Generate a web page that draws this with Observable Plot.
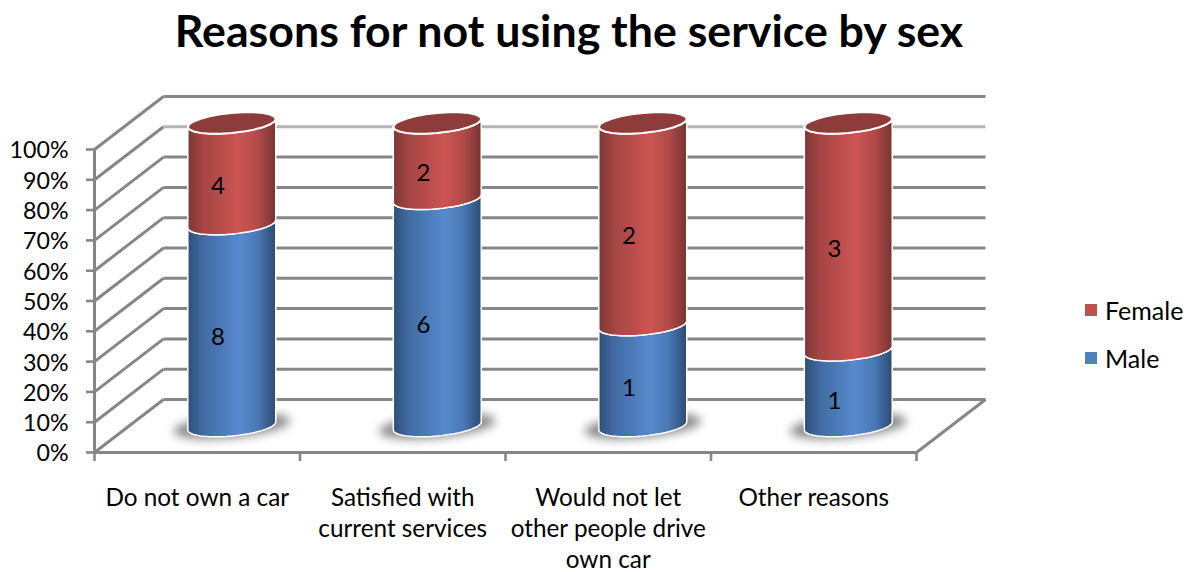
<!DOCTYPE html>
<html>
<head>
<meta charset="utf-8">
<script src="https://cdn.jsdelivr.net/npm/d3@7"></script>
<script src="https://cdn.jsdelivr.net/npm/@observablehq/plot@0.6"></script>
<style>
  html, body { margin: 0; background: #fff; }
  #page { position: relative; width: 1199px; height: 572px; overflow: hidden; font-family: Lato, sans-serif; color: #000; }
  h1 { margin: 0; height: 62px; width: 1138px; text-align: center; font-size: 44.7px; font-weight: 700; line-height: 60px; }
  #legend { position: absolute; left: 1085px; top: 286px; font-size: 25px; }
  #legend div { display: flex; align-items: center; height: 48px; }
  #legend i { width: 12px; height: 12px; margin-right: 8px; display: block; }
  svg { display: block; }
</style>
</head>
<body>
<div id="page">
  <h1>Reasons for not using the service by sex</h1>
  <div id="chart"></div>
  <div id="legend">
    <div><i style="background:#c0504d"></i>Female</div>
    <div><i style="background:#4f81bd"></i>Male</div>
  </div>
</div>
<script>
// Respondent counts per reason
const categories = ["Do not own a car", "Satisfied with\ncurrent services", "Would not let\nother people drive\nown car", "Other reasons"];
const male = [8, 6, 1, 1];
const female = [4, 2, 2, 3];
const percentTicks = [0, 0.1, 0.2, 0.3, 0.4, 0.5, 0.6, 0.7, 0.8, 0.9, 1];
const categoryEdges = [0, 1, 2, 3, 4];

// Oblique projection of the chart box, in units of the x and y scales
const depthX = 0.336;
const depthY = 0.175;
const radiusX = 0.214;
const radiusY = 0.033;
const tilt = 0.0132;

const cx = (i) => i + 0.5 + depthX / 2;
const cy = (v) => v + depthY / 2;

// Tilted cross-section of a cylinder, sampled between two angles
const arc = (i, v, from, to, rx = radiusX, ry = radiusY) =>
  d3.range(25).map((k) => {
    const t = from + ((to - from) * k) / 24;
    return { x: cx(i) + rx * Math.cos(t), y: cy(v) - ry * Math.sin(t) + tilt * Math.cos(t) * (rx / radiusX) };
  });

const bodies = [];
const tops = [];
const shadows = [];
const labels = [];
categories.forEach((_, i) => {
  const split = male[i] / (male[i] + female[i]);
  const segments = [
    { kind: "male", lo: 0, hi: split, value: male[i] },
    { kind: "female", lo: split, hi: 1, value: female[i] }
  ];
  for (const s of segments) {
    const id = `${s.kind}-${i}`;
    const path = [...arc(i, s.hi, Math.PI, 0), ...arc(i, s.lo, Math.PI, 0).reverse()];
    path.push(path[0]);
    path.forEach((p) => bodies.push({ ...p, id, kind: s.kind }));
    labels.push({ x: cx(i) - depthX * 0.2, y: cy((s.lo + s.hi) / 2) - depthY * 0.24, value: s.value });
  }
  arc(i, 1, 0, 2 * Math.PI).forEach((p) => tops.push({ ...p, id: i }));
  arc(i, 0, 0, 2 * Math.PI, 0.285, 0.04).forEach((p) => shadows.push({ ...p, id: i }));
});

// Side wall diagonals and back wall rows, one pair per percent tick, plus the floor edge
const walls = percentTicks.flatMap((t) => [
  { x1: 0, y1: t, x2: depthX, y2: t + depthY },
  { x1: depthX, y1: t + depthY, x2: 4 + depthX, y2: t + depthY, soft: t === 0.9 }
]);
walls.push({ x1: 4, y1: 0, x2: 4 + depthX, y2: depthY });

// Horizontal shading that rounds the cylinder bodies
function gradients() {
  const svg = d3.create("svg:g");
  const defs = svg.append("defs");
  const ramp = (id, stops) => {
    const g = defs.append("linearGradient").attr("id", id);
    stops.forEach(([o, c]) => g.append("stop").attr("offset", o).attr("stop-color", c));
  };
  ramp("maleShade", [[0, "#2f4e78"], [0.18, "#416ca3"], [0.58, "#5789cd"], [0.8, "#4a78b4"], [1, "#2d4a72"]]);
  ramp("femaleShade", [[0, "#7c3836"], [0.18, "#a54543"], [0.58, "#cc5553"], [0.8, "#b04a48"], [1, "#773432"]]);
  return svg.node();
}

const gridColor = "#868686";
const chart = Plot.plot({
  width: 1199,
  height: 510,
  marginLeft: 94,
  marginRight: 283,
  marginTop: 87,
  marginBottom: 120,
  x: { domain: [0, 4] },
  y: { domain: [0, 1] },
  marks: [
    gradients,
    Plot.link(walls, { x1: "x1", y1: "y1", x2: "x2", y2: "y2", stroke: (d) => (d.soft ? "#b4b4b4" : gridColor), strokeWidth: 3 }),
    Plot.line(shadows, { x: "x", y: "y", z: "id", fill: "#8c8c8c", stroke: "none", imageFilter: "blur(5px)" }),
    Plot.line(bodies.filter((d) => d.kind === "male"), { x: "x", y: "y", z: "id", fill: "url(#maleShade)", stroke: "white", strokeWidth: 1.5 }),
    Plot.line(bodies.filter((d) => d.kind === "female"), { x: "x", y: "y", z: "id", fill: "url(#femaleShade)", stroke: "white", strokeWidth: 1.5 }),
    Plot.line(tops, { x: "x", y: "y", z: "id", fill: "#8e3c3a", stroke: "white", strokeWidth: 2 }),
    Plot.text(labels, { x: "x", y: "y", text: "value", fontSize: 24, fill: "black" }),
    Plot.ruleX([0], { y1: 0, y2: 1, stroke: gridColor, strokeWidth: 3 }),
    Plot.ruleY([0], { x1: 0, x2: 4, stroke: gridColor, strokeWidth: 3 }),
    Plot.axisY({ ticks: percentTicks, tickSize: 8, tickFormat: () => "", label: null, stroke: gridColor, strokeWidth: 2.6 }),
    Plot.text(percentTicks, {
      x: 0, y: (d) => d, text: (d) => `${Math.round(d * 100)}%`, textAnchor: "end", dx: -26, dy: 1.5, fontSize: 23.2, fill: "black"
    }),
    Plot.axisX({ ticks: categoryEdges, tickSize: 9, tickFormat: () => "", label: null, stroke: gridColor, strokeWidth: 2.6 }),
    Plot.axisX({
      ticks: categories.map((_, i) => i + 0.5), tickSize: 0, tickPadding: 31, label: null, fontSize: 24.3,
      tickFormat: (d) => categories[d - 0.5], lineHeight: 1.29, lineAnchor: "top", fill: "black", textOverflow: null
    })
  ]
});
chart.style.fontFamily = "Lato, sans-serif";
document.getElementById("chart").append(chart);
</script>
</body>
</html>
